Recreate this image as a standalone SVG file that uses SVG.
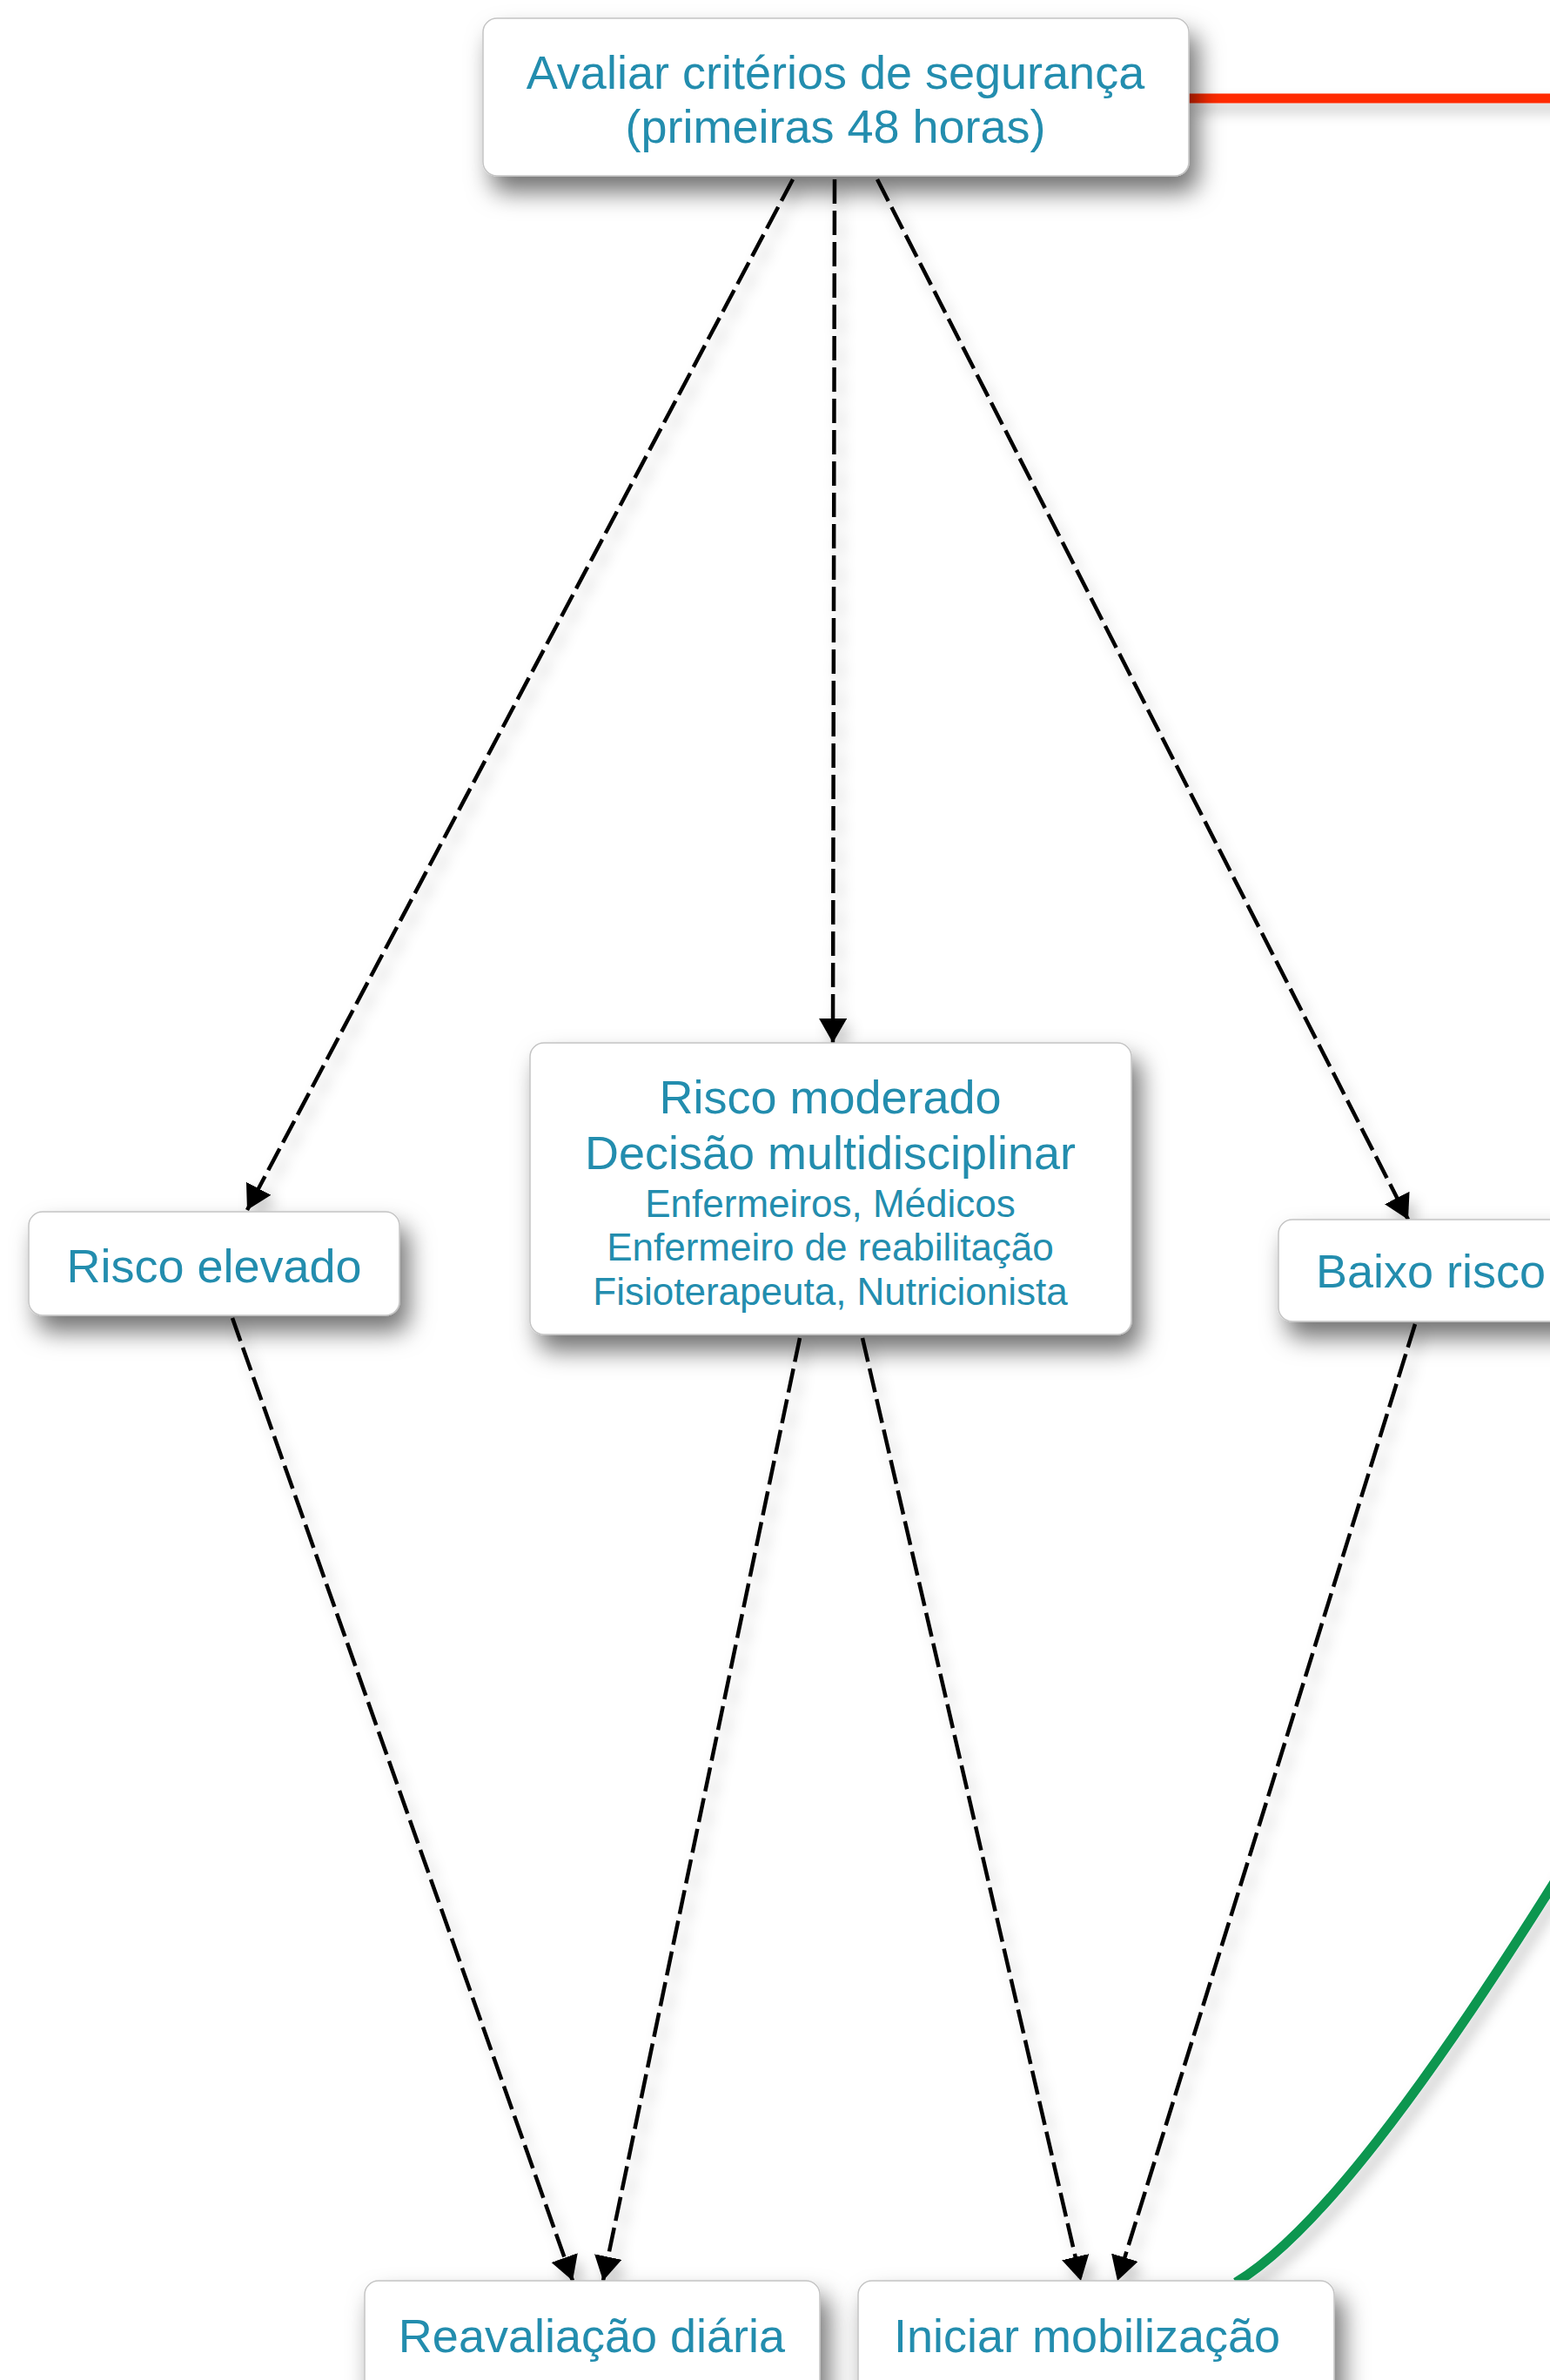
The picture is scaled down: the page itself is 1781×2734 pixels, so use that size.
<svg xmlns="http://www.w3.org/2000/svg" width="1781" height="2734" viewBox="0 0 1781 2734">
  <defs>
    <style>
      .box { fill: #ffffff; stroke: #c4c4c4; stroke-width: 1.5; filter: url(#nodeShadow); }
      .lbl { font-family: "Liberation Sans", Arial, Helvetica, sans-serif; fill: #238dae; text-anchor: middle; }
      .big { font-size: 54px; }
      .small { font-size: 44px; }
      .dash { fill: none; stroke: #000000; stroke-width: 4.5; stroke-dasharray: 28 8; marker-end: url(#arrow); }
      .solid { fill: none; stroke-width: 11; stroke-linecap: butt; }
    </style>
    <filter id="nodeShadow" x="-25%" y="-40%" width="160%" height="200%">
      <feDropShadow dx="10" dy="18" stdDeviation="14" flood-color="#000000" flood-opacity="0.55"/>
    </filter>
    <filter id="lineShadow" x="-20%" y="-20%" width="140%" height="140%">
      <feDropShadow dx="7" dy="10" stdDeviation="8" flood-color="#000000" flood-opacity="0.22"/>
    </filter>
    <marker id="arrow" markerUnits="userSpaceOnUse" markerWidth="34" markerHeight="34" refX="28" refY="16" orient="auto" viewBox="0 0 34 34">
      <path d="M0,0 L28,16 L0,32 z" fill="#000000"/>
    </marker>
  </defs>

  <rect width="1781" height="2734" fill="#ffffff"/>

  <!-- connectors -->
  <g id="connectors" filter="url(#lineShadow)">
    <path class="solid" d="M1366,113 L1800,113" stroke="#ff2a00"/>
    <path class="solid" d="M1420,2622 C1510,2568 1635,2405 1800,2140" stroke="#079650"/>
    <path class="dash" d="M911,206 L284,1390"/>
    <path class="dash" d="M959,206 L957,1198"/>
    <path class="dash" d="M1008,206 L1618,1401"/>
    <path class="dash" d="M267,1514 L658,2620"/>
    <path class="dash" d="M919,1537 L693,2620"/>
    <path class="dash" d="M991,1537 L1242,2620"/>
    <path class="dash" d="M1626,1521 L1284,2620"/>
  </g>

  <!-- nodes -->
  <g id="node-avaliar">
    <rect class="box" x="555" y="21" width="811" height="181" rx="16"/>
    <text class="lbl big" x="960" y="102">Avaliar critérios de segurança</text>
    <text class="lbl big" x="960" y="164">(primeiras 48 horas)</text>
  </g>

  <g id="node-risco-elevado">
    <rect class="box" x="33" y="1392" width="426" height="119" rx="16"/>
    <text class="lbl big" x="246" y="1473">Risco elevado</text>
  </g>

  <g id="node-risco-moderado">
    <rect class="box" x="609" y="1198" width="691" height="335" rx="16"/>
    <text class="lbl big" x="954" y="1279">Risco moderado</text>
    <text class="lbl big" x="954" y="1343">Decisão multidisciplinar</text>
    <text class="lbl small" x="954" y="1398">Enfermeiros, Médicos</text>
    <text class="lbl small" x="954" y="1448">Enfermeiro de reabilitação</text>
    <text class="lbl small" x="954" y="1499">Fisioterapeuta, Nutricionista</text>
  </g>

  <g id="node-baixo-risco">
    <rect class="box" x="1469" y="1401" width="420" height="117" rx="16"/>
    <text class="lbl big" x="1512" y="1479" style="text-anchor: start">Baixo risco</text>
  </g>

  <g id="node-reavaliacao">
    <rect class="box" x="419" y="2620" width="523" height="150" rx="16"/>
    <text class="lbl big" x="680" y="2702">Reavaliação diária</text>
  </g>

  <g id="node-iniciar">
    <rect class="box" x="986" y="2620" width="547" height="150" rx="16"/>
    <text class="lbl big" x="1249" y="2702">Iniciar mobilização</text>
  </g>
</svg>
